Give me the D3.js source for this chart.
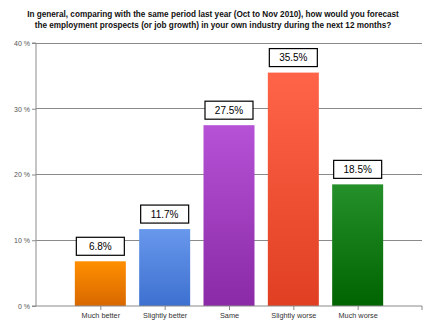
<!DOCTYPE html>
<html><head><meta charset="utf-8">
<script src="https://cdn.jsdelivr.net/npm/d3@7"></script>
<style>body{margin:0;background:#fff}svg{display:block}</style>
</head><body>
<script>
const titleLines = ["In general, comparing with the same period last year (Oct to Nov 2010), how would you forecast",
                    "the employment prospects (or job growth) in your own industry during the next 12 months?"];
const categories = ["Much better","Slightly better","Same","Slightly worse","Much worse"];
const values = [6.8, 11.7, 27.5, 35.5, 18.5];
const yTicks = [0, 10, 20, 30, 40];
const colorsTop = ["#ff8f00","#6898ec","#b552d6","#ff6449","#25902a"];
const colorsBottom = ["#d86800","#3d70d0","#8a2aa6","#e03f22","#006400"];

const W = 442, H = 329;
const x0 = 36, x1 = 422, y0 = 306, y1 = 43;
const svg = d3.select("body").append("svg").attr("width", W).attr("height", H);
const defs = svg.append("defs");
categories.forEach((c, i) => {
  const g = defs.append("linearGradient").attr("id", "g" + i).attr("x1", 0).attr("y1", 0).attr("x2", 0).attr("y2", 1);
  g.append("stop").attr("offset", "0%").attr("stop-color", colorsTop[i]);
  g.append("stop").attr("offset", "100%").attr("stop-color", colorsBottom[i]);
});

const x = d3.scalePoint().domain(categories).range([x0, x1]).padding(1);
const y = d3.scaleLinear().domain([0, 40]).range([y0, y1]);
const barW = 51;

// title
svg.append("g").selectAll("text").data(titleLines).join("text")
  .attr("x", 213).attr("y", (d, i) => 17 + i * 10.5)
  .attr("text-anchor", "middle")
  .attr("font-family", "Liberation Sans, Arial, sans-serif")
  .attr("font-weight", "bold").attr("font-size", 8.2).attr("fill", "#111")
  .text(d => d);

// grid
svg.append("g").selectAll("line").data(yTicks.filter(t => t > 0)).join("line")
  .attr("x1", x0).attr("x2", x1).attr("y1", d => y(d)).attr("y2", d => y(d))
  .attr("stroke", "#8a8a8a").attr("stroke-width", 1).attr("shape-rendering", "crispEdges");

// y axis
const yAxis = svg.append("g").attr("transform", `translate(${x0},0)`)
  .call(d3.axisLeft(y).tickValues(yTicks).tickSize(4).tickPadding(2).tickFormat(d => d + " %"));
yAxis.select(".domain").attr("stroke", "#8a8a8a").attr("d", `M-4,${y1}H0V${y0}H-4`);
yAxis.selectAll(".tick line").attr("stroke", "#8a8a8a");
yAxis.selectAll("text").attr("font-family", "Liberation Sans, Arial, sans-serif").attr("font-size", 7).attr("fill", "#555");

// bars
svg.append("g").selectAll("rect").data(values).join("rect")
  .attr("x", (d, i) => x(categories[i]) - barW / 2)
  .attr("y", d => y(d)).attr("width", barW).attr("height", d => y0 - y(d))
  .attr("fill", (d, i) => `url(#g${i})`);

// x axis
const xAxis = svg.append("g").attr("transform", `translate(0,${y0})`)
  .call(d3.axisBottom(x).tickSize(4).tickPadding(3));
xAxis.select(".domain").attr("stroke", "#8a8a8a").attr("d", `M${x0},0H${x1}V4`);
xAxis.selectAll(".tick line").attr("stroke", "#8a8a8a");
xAxis.selectAll("text").attr("font-family", "Liberation Sans, Arial, sans-serif").attr("font-size", 7.3).attr("fill", "#333");

// value labels
const lab = svg.append("g").selectAll("g").data(values).join("g")
  .attr("transform", (d, i) => `translate(${x(categories[i])},${y(d) - 6})`);
lab.append("rect").attr("x", -24).attr("y", -18).attr("width", 48).attr("height", 18)
  .attr("fill", "#fff").attr("stroke", "#000").attr("stroke-width", 1.2);
lab.append("text").attr("x", 0).attr("y", -5.5).attr("text-anchor", "middle")
  .attr("font-family", "Liberation Sans, Arial, sans-serif").attr("font-size", 10).attr("fill", "#000")
  .text(d => d.toFixed(1) + "%");
</script>
</body></html>
